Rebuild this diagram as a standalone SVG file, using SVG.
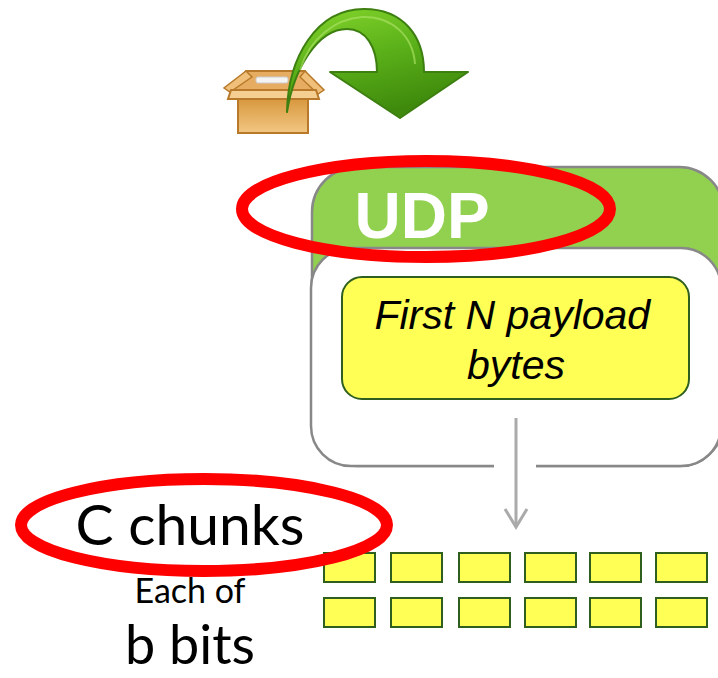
<svg xmlns="http://www.w3.org/2000/svg" width="718" height="678" viewBox="0 0 718 678">
  <style>
    .chunk { fill: #ffff55; stroke: #2f5f1f; stroke-width: 2; }
    .mark { fill: none; stroke: #ff0000; stroke-width: 12; }
    .label { font-family: Lato, "Liberation Sans", sans-serif; fill: #000; text-anchor: middle; }
    .conn { fill: none; stroke: #aaaaaa; stroke-width: 3; }
  </style>
  <defs>
    <linearGradient id="arrowFill" x1="0" y1="0" x2="0.4" y2="1">
      <stop offset="0" stop-color="#86d62c"/>
      <stop offset="0.5" stop-color="#5cb21a"/>
      <stop offset="1" stop-color="#3f8a0c"/>
    </linearGradient>
    <linearGradient id="boxFill" x1="0" y1="0" x2="0" y2="1">
      <stop offset="0" stop-color="#d8983e"/>
      <stop offset="1" stop-color="#f2c783"/>
    </linearGradient>
  </defs>

  <rect width="718" height="678" fill="#ffffff"/>

  <!-- package icon with curved green arrow -->
  <g id="icon">
    <polygon points="246,71 305,71 316,90 231,90" fill="#e6ad62" stroke="#b87a2a" stroke-width="2"/>
    <rect x="256" y="77" width="32" height="6" rx="2" fill="#f4f4f4" stroke="#cccccc" stroke-width="1"/>
    <polygon points="246,71 224,88 230,92 252,77" fill="#f0c07a" stroke="#b87a2a" stroke-width="1.5"/>
    <polygon points="305,71 324,90 318,94 300,77" fill="#f0c07a" stroke="#b87a2a" stroke-width="1.5"/>
    <polygon points="231,90 316,90 319,99 228,99" fill="#f5cf92" stroke="#b87a2a" stroke-width="2"/>
    <rect x="238" y="99" width="70" height="34" fill="url(#boxFill)" stroke="#b87a2a" stroke-width="2"/>
    <path d="M 287 112 C 288 58, 316 9, 364 9 C 403 9, 424 36, 424 72 L 468 72 L 400 118 L 330 72 L 377 72 C 377 47, 366 29, 347 29 C 318 29, 294 68, 287 112 Z"
          fill="url(#arrowFill)" stroke="#3d7f10" stroke-width="2" stroke-linejoin="round"/>
    <path d="M 300 70 C 310 38, 335 19, 362 17 C 392 16, 413 36, 415 64" fill="none" stroke="#a6e060" stroke-width="2" opacity="0.7"/>
  </g>

  <!-- UDP header and payload container -->
  <g id="udp">
    <rect x="312" y="167" width="412" height="299" rx="45" fill="#92d050" stroke="#888888" stroke-width="2.5"/>
    <text x="422" y="238" font-family="'Liberation Sans', Arial, sans-serif" font-weight="bold" font-size="64" fill="#ffffff" text-anchor="middle">UDP</text>
    <rect x="311" y="248" width="410" height="218" rx="40" fill="#ffffff" stroke="#888888" stroke-width="2.5"/>
    <!-- gap in the bottom border where the arrow leaves -->
    <rect x="494" y="462" width="42" height="8" fill="#ffffff"/>
  </g>

  <g id="payload">
    <rect x="342" y="277" width="347" height="122" rx="20" fill="#ffff55" stroke="#2f5f1f" stroke-width="2"/>
    <text font-family="'Liberation Sans', Arial, sans-serif" font-style="italic" font-size="41" fill="#000" text-anchor="middle">
      <tspan x="518" y="329">First N payload</tspan>
      <tspan x="516" y="379">bytes</tspan>
    </text>
  </g>

  <g id="connectors">
    <line class="conn" x1="516" y1="418" x2="516" y2="527"/>
    <polyline class="conn" points="505,509 516,527 527,509" stroke-linejoin="miter"/>
  </g>

  <g id="chunks">
    <rect class="chunk" x="324" y="553" width="51" height="29"/>
    <rect class="chunk" x="391" y="553" width="51" height="29"/>
    <rect class="chunk" x="459" y="553" width="51" height="29"/>
    <rect class="chunk" x="525" y="553" width="51" height="29"/>
    <rect class="chunk" x="590" y="553" width="51" height="29"/>
    <rect class="chunk" x="656" y="553" width="51" height="29"/>
    <rect class="chunk" x="324" y="598" width="51" height="29"/>
    <rect class="chunk" x="391" y="598" width="51" height="29"/>
    <rect class="chunk" x="459" y="598" width="51" height="29"/>
    <rect class="chunk" x="525" y="598" width="51" height="29"/>
    <rect class="chunk" x="590" y="598" width="51" height="29"/>
    <rect class="chunk" x="656" y="598" width="51" height="29"/>
  </g>

  <g id="chunk-labels">
    <text class="label" x="190" y="545" font-size="57">C chunks</text>
    <text class="label" x="190" y="603" font-size="34">Each of</text>
    <text class="label" x="190" y="664" font-size="54">b bits</text>
  </g>

  <!-- highlight rings -->
  <g id="highlights">
    <ellipse class="mark" cx="426" cy="209" rx="184" ry="48"/>
    <ellipse class="mark" cx="204" cy="525" rx="183" ry="46"/>
  </g>
</svg>
